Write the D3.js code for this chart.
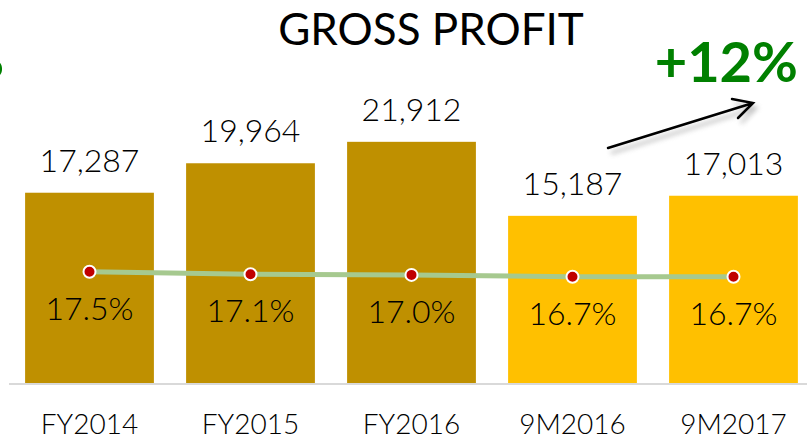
<!DOCTYPE html>
<html>
<head>
<meta charset="utf-8">
<script src="https://cdn.jsdelivr.net/npm/d3@7"></script>
<style>
  body { margin: 0; background: #fff; }
  text { font-family: Lato, "Open Sans", sans-serif; }
</style>
</head>
<body>
<div id="chart"></div>
<script>
// data
var periods = ["FY2014", "FY2015", "FY2016", "9M2016", "9M2017"];
var grossProfit = [17287, 19964, 21912, 15187, 17013];
var margin = [17.5, 17.1, 17.0, 16.7, 16.7];
var isNineMonth = [false, false, false, true, true];

var width = 807, height = 443;
var baseY = 383;

var svg = d3.select("#chart").append("svg")
    .attr("width", width)
    .attr("height", height);

var defs = svg.append("defs");
var blur = defs.append("filter").attr("id", "shadow")
    .attr("x", "-20%").attr("y", "-50%").attr("width", "140%").attr("height", "200%");
blur.append("feGaussianBlur").attr("stdDeviation", 2.5);

var x = d3.scaleBand()
    .domain(periods)
    .range([9, 814])
    .paddingInner(0.2)
    .paddingOuter(0.1);

var y = d3.scaleLinear()
    .domain([0, 30000])
    .range([baseY, baseY - 330.2]);

var y2 = d3.scaleLinear()
    .domain([0, 60])
    .range([baseY, baseY - 381.6]);

// bars
svg.selectAll("rect.bar")
    .data(grossProfit)
    .enter()
    .append("rect")
    .attr("class", "bar")
    .attr("x", function(d, i) { return x(periods[i]); })
    .attr("width", x.bandwidth())
    .attr("y", function(d) { return y(d); })
    .attr("height", function(d) { return baseY - y(d); })
    .attr("fill", function(d, i) { return isNineMonth[i] ? "#FFC000" : "#BF9000"; });

// baseline
svg.append("line")
    .attr("x1", 9).attr("x2", width)
    .attr("y1", baseY + 1).attr("y2", baseY + 1)
    .attr("stroke", "#d9d9d9")
    .attr("stroke-width", 2);

// value labels
svg.selectAll("text.value")
    .data(grossProfit)
    .enter()
    .append("text")
    .attr("class", "value")
    .attr("x", function(d, i) { return x(periods[i]) + x.bandwidth() / 2; })
    .attr("y", function(d) { return y(d) - 21; })
    .attr("text-anchor", "middle")
    .attr("font-size", 32)
    .attr("font-weight", 300)
    .attr("fill", "#000")
    .text(function(d) { return d3.format(",")(d); });

// category axis
var xAxis = svg.append("g")
    .attr("transform", "translate(0," + baseY + ")")
    .call(d3.axisBottom(x).tickSize(0).tickPadding(30));
xAxis.select(".domain").remove();
xAxis.selectAll("text")
    .attr("dy", 0)
    .attr("y", 51)
    .attr("font-family", "Lato, sans-serif")
    .attr("font-size", 28)
    .attr("font-weight", 300)
    .attr("fill", "#000");

// margin line
var line = d3.line()
    .x(function(d, i) { return x(periods[i]) + x.bandwidth() / 2; })
    .y(function(d) { return y2(d); });

svg.append("path")
    .datum(margin)
    .attr("d", line)
    .attr("fill", "none")
    .attr("stroke", "#A6C98F")
    .attr("stroke-width", 5);

svg.selectAll("circle.dot")
    .data(margin)
    .enter()
    .append("circle")
    .attr("class", "dot")
    .attr("cx", function(d, i) { return x(periods[i]) + x.bandwidth() / 2; })
    .attr("cy", function(d) { return y2(d); })
    .attr("r", 6)
    .attr("fill", "#C00000")
    .attr("stroke", "#fff")
    .attr("stroke-width", 2);

svg.selectAll("text.pct")
    .data(margin)
    .enter()
    .append("text")
    .attr("class", "pct")
    .attr("x", function(d, i) { return x(periods[i]) + x.bandwidth() / 2; })
    .attr("y", function(d) { return y2(d) + 48; })
    .attr("text-anchor", "middle")
    .attr("font-size", 32)
    .attr("font-weight", 300)
    .attr("fill", "#000")
    .text(function(d) { return d.toFixed(1) + "%"; });

// title
svg.append("text")
    .attr("x", 431)
    .attr("y", 45)
    .attr("text-anchor", "middle")
    .attr("font-size", 44)
    .attr("fill", "#000")
    .text("GROSS PROFIT");

// growth callout
svg.append("text")
    .attr("x", 798)
    .attr("y", 82)
    .attr("text-anchor", "end")
    .attr("font-size", 56)
    .attr("font-weight", 700)
    .attr("fill", "#008000")
    .text("+12%");

// partly visible callout at the left edge (cut off in the original too)
svg.append("text")
    .attr("x", 4)
    .attr("y", 78)
    .attr("text-anchor", "end")
    .attr("font-size", 50)
    .attr("font-weight", 700)
    .attr("fill", "#008000")
    .text("%");

// arrow with soft shadow
var arrowPath = "M608,148 L753,103 M732,99 L753,103 L738,118";
svg.append("path")
    .attr("d", arrowPath)
    .attr("transform", "translate(3,5)")
    .attr("fill", "none")
    .attr("stroke", "#999")
    .attr("stroke-width", 3)
    .attr("opacity", 0.6)
    .attr("filter", "url(#shadow)");
svg.append("path")
    .attr("d", arrowPath)
    .attr("fill", "none")
    .attr("stroke", "#000")
    .attr("stroke-width", 2.5)
    .attr("stroke-linecap", "round")
    .attr("stroke-linejoin", "miter");
</script>
</body>
</html>
